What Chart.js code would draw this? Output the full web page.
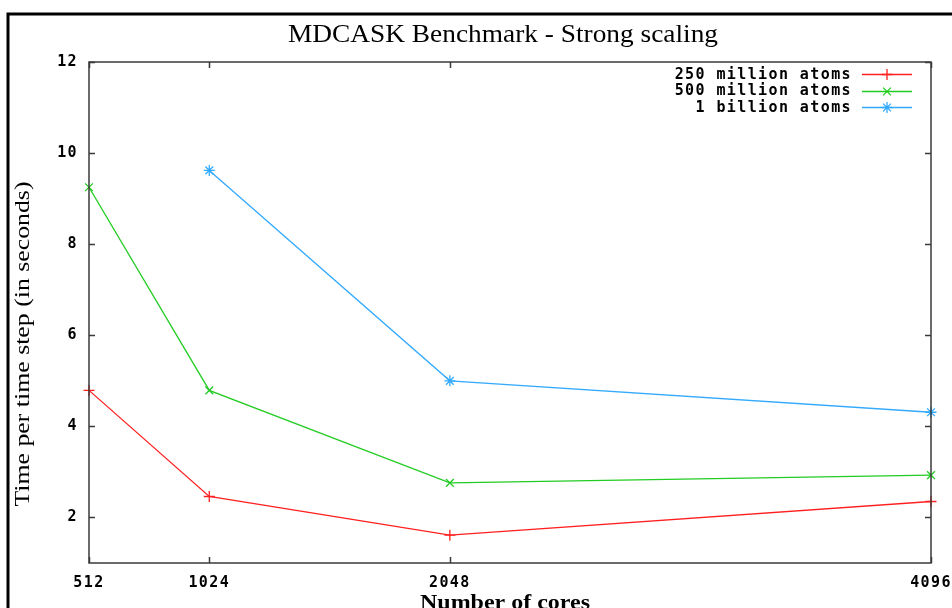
<!DOCTYPE html>
<html>
<head>
<meta charset="utf-8">
<script src="https://cdn.jsdelivr.net/npm/chart.js@4/dist/chart.umd.min.js"></script>
<style>
  html, body { margin: 0; padding: 0; background: #fff; }
  #wrap { width: 952px; height: 608px; position: relative; }
</style>
</head>
<body>
<div id="wrap"><canvas id="chart"></canvas></div>
<script>
// chart data
const cores = [512, 1024, 2048, 4096];
const atoms250m = [4.79, 2.46, 1.61, 2.35];
const atoms500m = [9.25, 4.79, 2.76, 2.93];
const atoms1b = [null, 9.62, 5.0, 4.31];
const yTicks = [2, 4, 6, 8, 10, 12];
const seriesNames = ["250 million atoms", "500 million atoms", "1 billion atoms"];

const monoFont = "bold 15px 'DejaVu Sans Mono'";

// turn the arrays into {x, y} points for the linear x scale
function toPoints(values) {
    return cores.map((c, i) => ({ x: c, y: values[i] }));
}

// draw text squeezed/stretched to a given width (gnuplot text is wide)
function fitText(ctx, text, font, cx, cy, width) {
    ctx.save();
    ctx.font = font;
    const w = ctx.measureText(text).width;
    ctx.translate(cx, cy);
    ctx.scale(width / w, 1);
    ctx.textAlign = "center";
    ctx.textBaseline = "alphabetic";
    ctx.fillText(text, 0, 0);
    ctx.restore();
}

// frame, plot border, inward ticks, title, axis titles, key
const gnuplotLook = {
    id: "gnuplotLook",
    beforeDraw(chart) {
        const ctx = chart.ctx;
        ctx.save();
        ctx.fillStyle = "#fff";
        ctx.fillRect(0, 0, chart.width, chart.height);
        ctx.restore();
        ctx.letterSpacing = "1.4px"; // tick labels
    },
    afterDatasetsDraw(chart) {
        const ctx = chart.ctx;
        const a = chart.chartArea;
        const xs = chart.scales.x, ys = chart.scales.y;
        ctx.save();
        ctx.letterSpacing = "0px";
        ctx.strokeStyle = "#3a3a3a";
        ctx.lineWidth = 1.5;
        ctx.strokeRect(a.left, a.top, a.right - a.left, a.bottom - a.top);
        ctx.beginPath();
        xs.ticks.forEach(t => {
            const px = Math.round(xs.getPixelForValue(t.value)) + 0.5;
            ctx.moveTo(px, a.bottom); ctx.lineTo(px, a.bottom - 6);
            ctx.moveTo(px, a.top); ctx.lineTo(px, a.top + 6);
        });
        ys.ticks.forEach(t => {
            const py = Math.round(ys.getPixelForValue(t.value)) + 0.5;
            ctx.moveTo(a.left, py); ctx.lineTo(a.left + 6, py);
            ctx.moveTo(a.right, py); ctx.lineTo(a.right - 6, py);
        });
        ctx.stroke();

        // outer frame
        ctx.strokeStyle = "#000";
        ctx.lineWidth = 3;
        ctx.strokeRect(8, 14, 960, 700);

        // title and axis titles
        ctx.fillStyle = "#000";
        fitText(ctx, "MDCASK Benchmark - Strong scaling", "26px 'Liberation Serif'", 503, 42, 430);
        fitText(ctx, "Number of cores", "bold 20px 'Liberation Serif'", 505, 609, 170);
        ctx.save();
        ctx.translate(29, 344);
        ctx.rotate(-Math.PI / 2);
        fitText(ctx, "Time per time step (in seconds)", "22px 'Liberation Serif'", 0, 0, 325);
        ctx.restore();

        // key, gnuplot style: text right-aligned, then line sample with marker
        ctx.font = monoFont;
        ctx.letterSpacing = "1.4px";
        ctx.textAlign = "right";
        ctx.textBaseline = "middle";
        chart.data.datasets.forEach((ds, i) => {
            const y = 74 + i * 16.5;
            ctx.fillStyle = "#000";
            ctx.fillText(ds.label, 852, y + 1);
            ctx.strokeStyle = ds.borderColor;
            ctx.lineWidth = 1.3;
            ctx.beginPath();
            ctx.moveTo(862, Math.round(y) + 0.5);
            ctx.lineTo(912, Math.round(y) + 0.5);
            ctx.stroke();
            Chart.helpers.drawPoint(ctx, {
                pointStyle: ds.pointStyle, radius: ds.pointRadius, rotation: 0,
                borderWidth: 1.3
            }, 887, Math.round(y) + 0.5);
        });
        ctx.restore();
    }
};

const colors = ["#ff2020", "#22cc22", "#33aaff"];
const styles = ["cross", "crossRot", "star"];
const allValues = [atoms250m, atoms500m, atoms1b];

new Chart(document.getElementById("chart"), {
    type: "line",
    data: {
        datasets: allValues.map((vals, i) => ({
            label: seriesNames[i],
            data: toPoints(vals),
            borderColor: colors[i],
            backgroundColor: colors[i],
            borderWidth: 1.3,
            pointStyle: styles[i],
            pointRadius: 5.5,
            pointBorderWidth: 1.3,
            pointHoverRadius: 5.5,
            tension: 0,
            spanGaps: false,
            clip: 10
        }))
    },
    options: {
        responsive: true,
        maintainAspectRatio: false,
        animation: false,
        events: [],
        layout: { padding: { top: 62, right: 21, bottom: 0, left: 0 } },
        plugins: {
            legend: { display: false },
            title: { display: false },
            tooltip: { enabled: false }
        },
        scales: {
            x: {
                type: "linear",
                min: cores[0],
                max: cores[cores.length - 1],
                afterBuildTicks: s => { s.ticks = cores.map(v => ({ value: v })); },
                afterFit: s => { s.height = 45; s.paddingLeft = 0; s.paddingRight = 0; },
                grid: { display: false, drawTicks: false },
                border: { display: false },
                ticks: {
                    padding: 11,
                    maxRotation: 0,
                    autoSkip: false,
                    color: "#000",
                    font: { family: "DejaVu Sans Mono", size: 15, weight: "bold" },
                    callback: v => String(v)
                }
            },
            y: {
                type: "linear",
                min: 1,
                max: 12,
                afterBuildTicks: s => { s.ticks = yTicks.map(v => ({ value: v })); },
                afterFit: s => { s.width = 89; s.paddingTop = 0; s.paddingBottom = 0; },
                grid: { display: false, drawTicks: false },
                border: { display: false },
                ticks: {
                    padding: 11,
                    color: "#000",
                    font: { family: "DejaVu Sans Mono", size: 15, weight: "bold" }
                }
            }
        }
    },
    plugins: [gnuplotLook]
});
</script>
</body>
</html>
